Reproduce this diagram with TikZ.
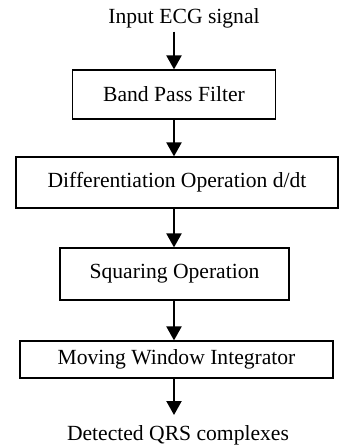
\documentclass[tikz,border=0pt]{standalone}
\usepackage{fontspec}
\setmainfont{Liberation Serif}
\usetikzlibrary{arrows.meta}

\tikzset{
	block/.style={draw,line width=1.2pt,inner sep=0pt,font=\fontsize{21.6}{25}\selectfont},
	label/.style={inner sep=3.5pt,font=\fontsize{21.6}{25}\selectfont},
	flow/.style={line width=2.2pt,-{Triangle[width=15pt,length=14pt]}}
}

\begin{document}
\begin{tikzpicture}[line join=miter,x=1pt,y=-1pt]
		\useasboundingbox (0,0) rectangle (339,448);
		% input and output texts
		\node[label] (in) at (184,18) {Input ECG signal};
		\node[label,inner sep=10pt] (out) at (178,435) {Detected QRS complexes};
		% processing blocks
		\node[block,minimum width=203pt,minimum height=49pt] (filt) at (174,94.5) {Band Pass Filter};
		\node[block,minimum width=322pt,minimum height=51pt] (diff) at (177,182.5) {Differentiation Operation d/dt};
		\node[block,minimum width=229pt,minimum height=52pt] (sq) at (174.5,274) {Squaring Operation};
		\node[block,minimum width=313pt,minimum height=37pt] (mwi) at (176.5,359.5) {Moving Window Integrator};
		% arrows
		\draw[flow] (in.south -| filt.north) -- (filt.north);
		\draw[flow] (filt.south) -- (filt.south |- diff.north);
		\draw[flow] (filt.south |- diff.south) -- (filt.south |- sq.north);
		\draw[flow] (filt.south |- sq.south) -- (filt.south |- mwi.north);
		\draw[flow] (filt.south |- mwi.south) -- (filt.south |- out.north);
	\end{tikzpicture}
\end{document}
